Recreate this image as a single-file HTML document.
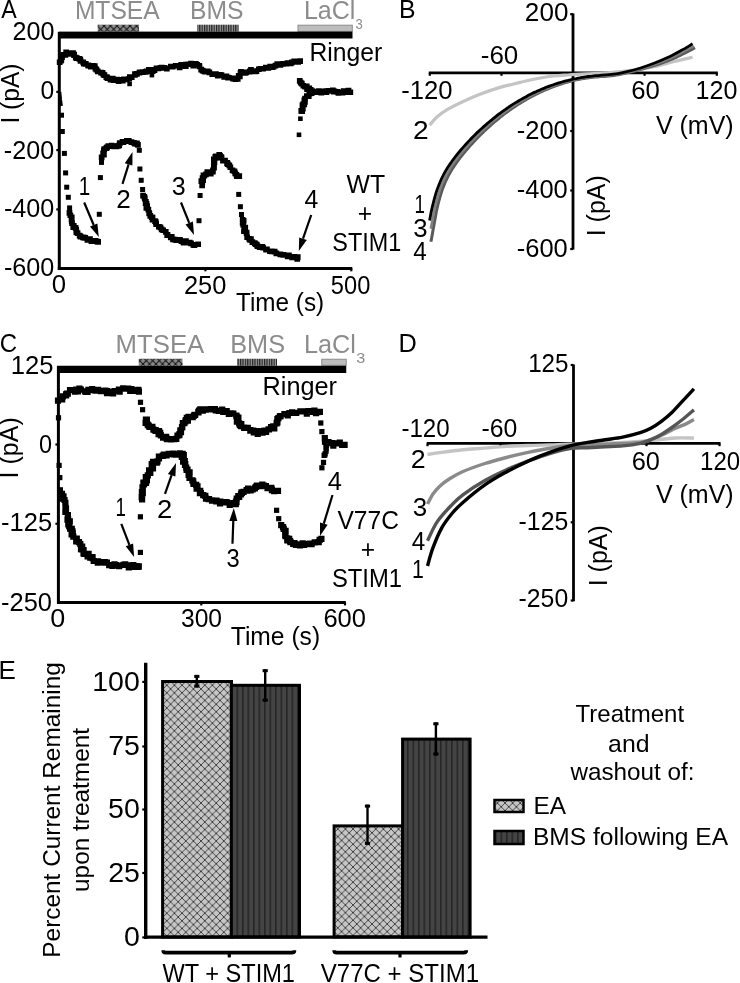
<!DOCTYPE html>
<html><head><meta charset="utf-8"><style>
html,body{margin:0;padding:0;background:#fff;}
svg{display:block;will-change:transform;}
text{font-family:"Liberation Sans",sans-serif;}
</style></head><body>
<svg width="740" height="983" viewBox="0 0 740 983">
<rect width="740" height="983" fill="#fff"/>
<defs>
<pattern id="xh" patternUnits="userSpaceOnUse" x="7.2" y="1.2" width="7.6" height="7.6">
 <rect width="7.6" height="7.6" fill="#c6c6c6"/>
 <path d="M-1,-1 L8.6,8.6 M8.6,-1 L-1,8.6" stroke="#2a2a2a" stroke-width="0.85"/>
</pattern>
<pattern id="xh3" patternUnits="userSpaceOnUse" x="3.4" y="0.6" width="7.6" height="7.6">
 <rect width="7.6" height="7.6" fill="#c6c6c6"/>
 <path d="M-1,-1 L8.6,8.6 M8.6,-1 L-1,8.6" stroke="#2a2a2a" stroke-width="0.85"/>
</pattern>
<pattern id="vs" patternUnits="userSpaceOnUse" width="5.5" height="10">
 <rect width="5.5" height="10" fill="#444"/>
 <rect x="0" width="1.6" height="10" fill="#262626"/>
</pattern>
<pattern id="xhs" patternUnits="userSpaceOnUse" width="6.5" height="6.5">
 <rect width="6.5" height="6.5" fill="#8a8a8a"/>
 <path d="M0,0 L6.5,6.5 M6.5,0 L0,6.5" stroke="#111" stroke-width="1"/>
</pattern>
<pattern id="vss" patternUnits="userSpaceOnUse" width="2.4" height="10">
 <rect width="2.4" height="10" fill="#999"/>
 <rect x="0" width="1.2" height="10" fill="#222"/>
</pattern>
</defs>
<text x="1.15" y="17.50" font-size="25" fill="#000" textLength="15.49" lengthAdjust="spacingAndGlyphs">A</text>
<text x="74.88" y="19.45" font-size="25" fill="#8c8c8c" textLength="84.77" lengthAdjust="spacingAndGlyphs">MTSEA</text>
<text x="189.97" y="19.45" font-size="25" fill="#8c8c8c" textLength="53.56" lengthAdjust="spacingAndGlyphs">BMS</text>
<text x="303.94" y="19.45" font-size="25" fill="#8c8c8c">LaCl</text>
<text x="355.50" y="28.99" font-size="15" fill="#8c8c8c" textLength="7.27" lengthAdjust="spacingAndGlyphs">3</text>
<rect x="97.7" y="24.7" width="41.3" height="7" fill="url(#xhs)"/>
<rect x="197.3" y="24.7" width="41.4" height="7" fill="url(#vss)"/>
<rect x="298" y="25.2" width="54.3" height="6.2" fill="#bdbdbd" stroke="#8c8c8c" stroke-width="1"/>
<rect x="58.5" y="31.6" width="294" height="6.9" fill="#000"/>
<line x1="59.3" y1="32" x2="59.3" y2="270" stroke="#000" stroke-width="3"/>
<line x1="57.8" y1="268.4" x2="352.3" y2="268.4" stroke="#000" stroke-width="3"/>
<line x1="56.3" y1="91.9" x2="59.3" y2="91.9" stroke="#000" stroke-width="2.2"/>
<line x1="56.3" y1="150.1" x2="59.3" y2="150.1" stroke="#000" stroke-width="2.2"/>
<line x1="56.3" y1="209.4" x2="59.3" y2="209.4" stroke="#000" stroke-width="2.2"/>
<line x1="205.4" y1="268.4" x2="205.4" y2="271.3" stroke="#000" stroke-width="2.2"/>
<line x1="351.3" y1="268.4" x2="351.3" y2="271.3" stroke="#000" stroke-width="2.2"/>
<text x="12.54" y="40.05" font-size="25" fill="#000" textLength="41.95" lengthAdjust="spacingAndGlyphs">200</text>
<text x="40.44" y="99.15" font-size="25" fill="#000" textLength="13.73" lengthAdjust="spacingAndGlyphs">0</text>
<text x="3.88" y="158.50" font-size="25" fill="#000" textLength="50.30" lengthAdjust="spacingAndGlyphs">-200</text>
<text x="3.98" y="217.25" font-size="25" fill="#000" textLength="50.40" lengthAdjust="spacingAndGlyphs">-400</text>
<text x="3.98" y="276.05" font-size="25" fill="#000" textLength="50.40" lengthAdjust="spacingAndGlyphs">-600</text>
<text x="51.89" y="293.15" font-size="25" fill="#000" textLength="14.31" lengthAdjust="spacingAndGlyphs">0</text>
<text x="183.92" y="293.50" font-size="25" fill="#000" textLength="42.47" lengthAdjust="spacingAndGlyphs">250</text>
<text x="330.85" y="293.50" font-size="25" fill="#000" textLength="39.47" lengthAdjust="spacingAndGlyphs">500</text>
<text x="236.06" y="311.05" font-size="25" fill="#000" textLength="88.13" lengthAdjust="spacingAndGlyphs">Time (s)</text>
<text transform="translate(18.80,93.15) rotate(-90)" x="-30.42" y="0" font-size="25" fill="#000" textLength="60.09" lengthAdjust="spacingAndGlyphs">I (pA)</text>
<text x="309.47" y="60.85" font-size="25" fill="#000" textLength="72.74" lengthAdjust="spacingAndGlyphs">Ringer</text>
<text x="346.49" y="192.75" font-size="25" fill="#000" textLength="38.58" lengthAdjust="spacingAndGlyphs">WT</text>
<text x="357.79" y="221.70" font-size="25" fill="#000" textLength="14.42" lengthAdjust="spacingAndGlyphs">+</text>
<text x="332.34" y="251.20" font-size="25" fill="#000" textLength="68.91" lengthAdjust="spacingAndGlyphs">STIM1</text>
<path d="M56.8,59.4h5.7v5.7h-5.7zM58.1,57.8h5.7v5.7h-5.7zM58.5,56.9h5.7v5.7h-5.7zM58.2,55.7h5.7v5.7h-5.7zM59.2,54.2h5.7v5.7h-5.7zM60.4,51.9h5.7v5.7h-5.7zM62.5,52.0h5.7v5.7h-5.7zM63.3,49.6h5.7v5.7h-5.7zM66.1,51.0h5.7v5.7h-5.7zM67.9,50.3h5.7v5.7h-5.7zM70.2,50.3h5.7v5.7h-5.7zM71.3,51.7h5.7v5.7h-5.7zM71.2,52.3h5.7v5.7h-5.7zM72.9,54.7h5.7v5.7h-5.7zM74.0,55.2h5.7v5.7h-5.7zM76.3,55.9h5.7v5.7h-5.7zM77.4,56.5h5.7v5.7h-5.7zM77.7,58.0h5.7v5.7h-5.7zM80.4,59.6h5.7v5.7h-5.7zM81.0,60.9h5.7v5.7h-5.7zM82.9,61.0h5.7v5.7h-5.7zM85.3,62.5h5.7v5.7h-5.7zM85.7,62.7h5.7v5.7h-5.7zM88.0,63.8h5.7v5.7h-5.7zM90.0,63.0h5.7v5.7h-5.7zM92.0,63.3h5.7v5.7h-5.7zM92.6,65.9h5.7v5.7h-5.7zM93.6,66.7h5.7v5.7h-5.7zM94.9,68.5h5.7v5.7h-5.7zM98.2,69.7h5.7v5.7h-5.7zM99.7,70.1h5.7v5.7h-5.7zM100.6,71.7h5.7v5.7h-5.7zM101.6,72.3h5.7v5.7h-5.7zM103.5,74.3h5.7v5.7h-5.7zM104.2,74.6h5.7v5.7h-5.7zM104.8,75.4h5.7v5.7h-5.7zM107.7,76.7h5.7v5.7h-5.7zM109.9,75.8h5.7v5.7h-5.7zM110.8,77.2h5.7v5.7h-5.7zM111.9,77.2h5.7v5.7h-5.7zM114.1,76.7h5.7v5.7h-5.7zM115.7,78.2h5.7v5.7h-5.7zM117.6,76.9h5.7v5.7h-5.7zM120.0,77.9h5.7v5.7h-5.7zM121.1,76.4h5.7v5.7h-5.7zM124.0,76.6h5.7v5.7h-5.7zM126.4,75.9h5.7v5.7h-5.7zM127.0,74.2h5.7v5.7h-5.7zM128.9,74.4h5.7v5.7h-5.7zM132.1,72.0h5.7v5.7h-5.7zM132.1,71.3h5.7v5.7h-5.7zM134.1,71.0h5.7v5.7h-5.7zM136.6,69.7h5.7v5.7h-5.7zM137.2,69.4h5.7v5.7h-5.7zM139.8,69.2h5.7v5.7h-5.7zM142.9,69.1h5.7v5.7h-5.7zM143.8,68.6h5.7v5.7h-5.7zM146.0,67.1h5.7v5.7h-5.7zM148.2,68.4h5.7v5.7h-5.7zM149.9,68.2h5.7v5.7h-5.7zM150.3,67.0h5.7v5.7h-5.7zM151.7,67.2h5.7v5.7h-5.7zM153.6,65.6h5.7v5.7h-5.7zM155.5,65.5h5.7v5.7h-5.7zM157.6,65.0h5.7v5.7h-5.7zM159.0,64.8h5.7v5.7h-5.7zM161.6,65.0h5.7v5.7h-5.7zM164.0,65.7h5.7v5.7h-5.7zM168.0,63.7h5.7v5.7h-5.7zM169.9,63.8h5.7v5.7h-5.7zM172.9,62.9h5.7v5.7h-5.7zM176.8,64.5h5.7v5.7h-5.7zM177.5,63.1h5.7v5.7h-5.7zM178.3,62.1h5.7v5.7h-5.7zM180.4,62.2h5.7v5.7h-5.7zM183.1,61.8h5.7v5.7h-5.7zM182.9,63.4h5.7v5.7h-5.7zM185.5,61.4h5.7v5.7h-5.7zM188.2,60.8h5.7v5.7h-5.7zM190.4,62.7h5.7v5.7h-5.7zM192.8,61.9h5.7v5.7h-5.7zM193.0,60.9h5.7v5.7h-5.7zM194.4,61.9h5.7v5.7h-5.7zM196.4,62.9h5.7v5.7h-5.7zM196.6,63.5h5.7v5.7h-5.7zM198.3,66.7h5.7v5.7h-5.7zM199.8,67.7h5.7v5.7h-5.7zM201.4,68.4h5.7v5.7h-5.7zM202.1,68.7h5.7v5.7h-5.7zM204.8,68.4h5.7v5.7h-5.7zM206.5,69.6h5.7v5.7h-5.7zM209.4,71.2h5.7v5.7h-5.7zM213.1,71.2h5.7v5.7h-5.7zM214.9,72.9h5.7v5.7h-5.7zM216.8,71.9h5.7v5.7h-5.7zM216.9,72.0h5.7v5.7h-5.7zM218.6,72.3h5.7v5.7h-5.7zM221.3,74.1h5.7v5.7h-5.7zM223.6,73.5h5.7v5.7h-5.7zM225.2,74.7h5.7v5.7h-5.7zM226.1,74.9h5.7v5.7h-5.7zM230.2,75.7h5.7v5.7h-5.7zM231.9,75.5h5.7v5.7h-5.7zM232.6,76.4h5.7v5.7h-5.7zM234.9,76.1h5.7v5.7h-5.7zM237.0,73.6h5.7v5.7h-5.7zM235.9,73.1h5.7v5.7h-5.7zM237.7,69.9h5.7v5.7h-5.7zM238.1,69.1h5.7v5.7h-5.7zM242.2,70.0h5.7v5.7h-5.7zM243.4,69.5h5.7v5.7h-5.7zM246.8,68.9h5.7v5.7h-5.7zM247.0,68.5h5.7v5.7h-5.7zM248.1,67.1h5.7v5.7h-5.7zM251.6,68.2h5.7v5.7h-5.7zM252.3,68.6h5.7v5.7h-5.7zM253.6,68.2h5.7v5.7h-5.7zM256.0,66.4h5.7v5.7h-5.7zM257.5,65.9h5.7v5.7h-5.7zM260.2,65.9h5.7v5.7h-5.7zM263.0,64.7h5.7v5.7h-5.7zM265.5,65.1h5.7v5.7h-5.7zM267.4,63.7h5.7v5.7h-5.7zM269.5,64.3h5.7v5.7h-5.7zM270.7,63.9h5.7v5.7h-5.7zM272.6,62.7h5.7v5.7h-5.7zM274.4,61.2h5.7v5.7h-5.7zM276.3,61.2h5.7v5.7h-5.7zM277.5,62.1h5.7v5.7h-5.7zM280.2,61.0h5.7v5.7h-5.7zM283.7,60.8h5.7v5.7h-5.7zM285.1,60.3h5.7v5.7h-5.7zM287.9,60.5h5.7v5.7h-5.7zM289.1,59.6h5.7v5.7h-5.7zM291.4,58.6h5.7v5.7h-5.7zM294.3,58.8h5.7v5.7h-5.7zM295.3,59.1h5.7v5.7h-5.7zM297.3,58.2h5.7v5.7h-5.7z" fill="#000"/>
<rect x="127.3" y="81.6" width="4.6" height="4.6" fill="#000"/>
<rect x="149.6" y="72.8" width="4.6" height="4.6" fill="#000"/>
<path d="M296.9,78.1h5.7v5.7h-5.7zM297.9,79.7h5.7v5.7h-5.7zM299.0,80.7h5.7v5.7h-5.7zM300.5,82.9h5.7v5.7h-5.7zM302.2,83.9h5.7v5.7h-5.7zM303.9,83.6h5.7v5.7h-5.7zM304.2,86.2h5.7v5.7h-5.7zM306.4,85.5h5.7v5.7h-5.7zM306.4,87.0h5.7v5.7h-5.7zM307.9,86.9h5.7v5.7h-5.7zM309.5,88.2h5.7v5.7h-5.7zM312.5,89.1h5.7v5.7h-5.7zM312.9,89.2h5.7v5.7h-5.7zM315.9,88.2h5.7v5.7h-5.7zM318.4,89.9h5.7v5.7h-5.7zM318.5,89.8h5.7v5.7h-5.7zM320.6,88.6h5.7v5.7h-5.7zM323.6,89.3h5.7v5.7h-5.7zM323.4,88.3h5.7v5.7h-5.7zM325.8,88.1h5.7v5.7h-5.7zM326.6,88.1h5.7v5.7h-5.7zM330.0,87.6h5.7v5.7h-5.7zM331.1,88.7h5.7v5.7h-5.7zM331.6,88.5h5.7v5.7h-5.7zM334.7,89.0h5.7v5.7h-5.7zM335.6,90.0h5.7v5.7h-5.7zM339.7,89.9h5.7v5.7h-5.7zM340.8,88.2h5.7v5.7h-5.7zM343.1,89.2h5.7v5.7h-5.7zM345.7,87.7h5.7v5.7h-5.7zM347.5,89.4h5.7v5.7h-5.7z" fill="#000"/>
<path d="M299.3,108.2h5.7v5.7h-5.7zM298.4,108.1h5.7v5.7h-5.7zM300.0,105.8h5.7v5.7h-5.7zM299.6,102.6h5.7v5.7h-5.7zM301.4,101.5h5.7v5.7h-5.7zM300.4,101.2h5.7v5.7h-5.7zM302.1,99.0h5.7v5.7h-5.7zM301.5,97.4h5.7v5.7h-5.7zM302.2,95.8h5.7v5.7h-5.7zM304.0,93.3h5.7v5.7h-5.7zM305.9,93.4h5.7v5.7h-5.7zM306.7,90.9h5.7v5.7h-5.7zM308.8,90.4h5.7v5.7h-5.7zM308.1,90.1h5.7v5.7h-5.7z" fill="#000"/>
<rect x="296.7" y="132.5" width="4.6" height="4.6" fill="#000"/>
<rect x="298.1" y="116.4" width="4.6" height="4.6" fill="#000"/>
<path d="M59.6,92 L60.4,100 L61.2,106" fill="none" stroke="#000" stroke-width="3.4"/>
<rect x="59.0" y="112.7" width="5" height="5" fill="#000"/>
<rect x="59.8" y="129.0" width="5" height="5" fill="#000"/>
<rect x="61.9" y="150.9" width="5" height="5" fill="#000"/>
<rect x="63.1" y="170.4" width="5" height="5" fill="#000"/>
<rect x="64.2" y="184.7" width="5" height="5" fill="#000"/>
<rect x="65.8" y="194.8" width="5" height="5" fill="#000"/>
<rect x="67.1" y="205.4" width="5" height="5" fill="#000"/>
<path d="M66.6,210.1h5.7v5.7h-5.7zM67.5,212.4h5.7v5.7h-5.7zM68.9,214.4h5.7v5.7h-5.7zM68.7,216.3h5.7v5.7h-5.7zM68.9,218.2h5.7v5.7h-5.7zM69.2,220.2h5.7v5.7h-5.7zM70.9,223.1h5.7v5.7h-5.7zM70.4,224.4h5.7v5.7h-5.7zM72.8,225.1h5.7v5.7h-5.7zM73.4,227.1h5.7v5.7h-5.7zM73.5,229.3h5.7v5.7h-5.7zM74.7,230.3h5.7v5.7h-5.7zM76.8,232.8h5.7v5.7h-5.7zM77.7,233.8h5.7v5.7h-5.7zM80.1,234.5h5.7v5.7h-5.7zM81.2,234.8h5.7v5.7h-5.7zM82.4,235.1h5.7v5.7h-5.7zM84.6,237.1h5.7v5.7h-5.7zM87.1,236.3h5.7v5.7h-5.7zM88.6,238.3h5.7v5.7h-5.7zM92.3,238.4h5.7v5.7h-5.7zM92.8,237.9h5.7v5.7h-5.7zM94.5,238.8h5.7v5.7h-5.7zM95.3,239.0h5.7v5.7h-5.7z" fill="#000"/>
<rect x="96.8" y="211.8" width="5" height="5" fill="#000"/>
<rect x="97.9" y="175.1" width="5" height="5" fill="#000"/>
<rect x="99.0" y="159.9" width="5" height="5" fill="#000"/>
<path d="M98.8,154.6h5.7v5.7h-5.7zM101.1,151.7h5.7v5.7h-5.7zM100.3,150.5h5.7v5.7h-5.7zM101.0,147.8h5.7v5.7h-5.7zM101.4,146.2h5.7v5.7h-5.7zM103.5,145.3h5.7v5.7h-5.7zM104.2,144.5h5.7v5.7h-5.7zM105.5,143.2h5.7v5.7h-5.7zM107.4,143.2h5.7v5.7h-5.7zM109.0,142.7h5.7v5.7h-5.7zM111.3,143.5h5.7v5.7h-5.7zM113.6,143.6h5.7v5.7h-5.7zM115.2,143.0h5.7v5.7h-5.7zM116.4,142.5h5.7v5.7h-5.7zM116.9,140.3h5.7v5.7h-5.7zM119.7,139.0h5.7v5.7h-5.7zM120.6,139.2h5.7v5.7h-5.7zM120.6,138.9h5.7v5.7h-5.7zM124.1,137.9h5.7v5.7h-5.7zM125.4,138.3h5.7v5.7h-5.7zM125.9,138.0h5.7v5.7h-5.7zM128.6,139.2h5.7v5.7h-5.7zM131.0,139.9h5.7v5.7h-5.7zM132.1,140.7h5.7v5.7h-5.7zM133.8,141.1h5.7v5.7h-5.7zM134.1,140.6h5.7v5.7h-5.7zM135.1,142.1h5.7v5.7h-5.7z" fill="#000"/>
<rect x="136.8" y="147.8" width="5" height="5" fill="#000"/>
<rect x="137.4" y="166.5" width="5" height="5" fill="#000"/>
<rect x="138.7" y="177.8" width="5" height="5" fill="#000"/>
<rect x="140.1" y="187.0" width="5" height="5" fill="#000"/>
<path d="M140.2,192.7h5.7v5.7h-5.7zM141.5,193.9h5.7v5.7h-5.7zM141.9,195.5h5.7v5.7h-5.7zM142.0,195.7h5.7v5.7h-5.7zM143.0,199.1h5.7v5.7h-5.7zM142.8,200.4h5.7v5.7h-5.7zM143.7,201.0h5.7v5.7h-5.7zM144.3,203.2h5.7v5.7h-5.7zM143.5,205.0h5.7v5.7h-5.7zM145.5,206.7h5.7v5.7h-5.7zM146.3,210.2h5.7v5.7h-5.7zM146.5,210.6h5.7v5.7h-5.7zM147.4,213.0h5.7v5.7h-5.7zM148.9,214.4h5.7v5.7h-5.7zM149.7,214.8h5.7v5.7h-5.7zM149.7,216.7h5.7v5.7h-5.7zM152.2,218.3h5.7v5.7h-5.7zM153.0,219.2h5.7v5.7h-5.7zM153.3,221.3h5.7v5.7h-5.7zM156.0,223.9h5.7v5.7h-5.7zM157.6,224.6h5.7v5.7h-5.7zM158.8,226.6h5.7v5.7h-5.7zM160.3,227.4h5.7v5.7h-5.7zM162.9,229.0h5.7v5.7h-5.7zM164.7,232.0h5.7v5.7h-5.7zM164.3,232.2h5.7v5.7h-5.7zM167.9,234.5h5.7v5.7h-5.7zM168.9,234.1h5.7v5.7h-5.7zM170.1,236.6h5.7v5.7h-5.7zM171.9,236.7h5.7v5.7h-5.7zM173.5,237.4h5.7v5.7h-5.7zM177.1,237.1h5.7v5.7h-5.7zM178.6,238.3h5.7v5.7h-5.7zM180.5,239.1h5.7v5.7h-5.7zM180.8,239.9h5.7v5.7h-5.7zM183.1,238.3h5.7v5.7h-5.7zM183.9,239.8h5.7v5.7h-5.7zM186.8,239.8h5.7v5.7h-5.7zM188.2,240.5h5.7v5.7h-5.7zM190.5,242.1h5.7v5.7h-5.7zM191.6,242.3h5.7v5.7h-5.7zM195.3,241.4h5.7v5.7h-5.7z" fill="#000"/>
<rect x="196.5" y="218.2" width="5" height="5" fill="#000"/>
<rect x="197.6" y="193.0" width="5" height="5" fill="#000"/>
<path d="M199.3,182.5h5.7v5.7h-5.7zM199.4,179.7h5.7v5.7h-5.7zM198.5,178.3h5.7v5.7h-5.7zM200.3,177.2h5.7v5.7h-5.7zM199.7,175.2h5.7v5.7h-5.7zM200.6,172.6h5.7v5.7h-5.7zM201.5,172.7h5.7v5.7h-5.7zM203.1,171.5h5.7v5.7h-5.7zM204.5,169.3h5.7v5.7h-5.7zM206.6,169.2h5.7v5.7h-5.7zM207.9,170.7h5.7v5.7h-5.7zM210.0,168.8h5.7v5.7h-5.7zM210.1,167.4h5.7v5.7h-5.7zM211.2,164.9h5.7v5.7h-5.7zM211.0,162.0h5.7v5.7h-5.7zM211.2,161.0h5.7v5.7h-5.7zM211.6,159.5h5.7v5.7h-5.7zM211.0,156.5h5.7v5.7h-5.7zM212.9,155.0h5.7v5.7h-5.7zM212.5,154.0h5.7v5.7h-5.7zM213.2,153.5h5.7v5.7h-5.7zM216.4,152.1h5.7v5.7h-5.7zM217.2,152.9h5.7v5.7h-5.7zM218.4,154.2h5.7v5.7h-5.7zM218.7,154.8h5.7v5.7h-5.7zM220.1,157.7h5.7v5.7h-5.7zM222.2,157.8h5.7v5.7h-5.7zM224.2,160.6h5.7v5.7h-5.7zM224.4,160.0h5.7v5.7h-5.7zM225.0,161.2h5.7v5.7h-5.7zM226.5,162.5h5.7v5.7h-5.7zM227.5,164.4h5.7v5.7h-5.7zM229.7,167.5h5.7v5.7h-5.7zM231.6,168.4h5.7v5.7h-5.7zM232.4,170.6h5.7v5.7h-5.7zM233.6,171.9h5.7v5.7h-5.7zM234.0,173.2h5.7v5.7h-5.7zM236.4,173.3h5.7v5.7h-5.7z" fill="#000"/>
<rect x="236.2" y="191.9" width="5" height="5" fill="#000"/>
<rect x="237.9" y="204.2" width="5" height="5" fill="#000"/>
<rect x="239.0" y="212.0" width="5" height="5" fill="#000"/>
<path d="M239.8,217.0h5.7v5.7h-5.7zM240.8,217.9h5.7v5.7h-5.7zM239.8,220.0h5.7v5.7h-5.7zM240.4,222.0h5.7v5.7h-5.7zM242.1,224.7h5.7v5.7h-5.7zM242.4,224.8h5.7v5.7h-5.7zM241.1,228.3h5.7v5.7h-5.7zM243.7,229.7h5.7v5.7h-5.7zM243.8,230.5h5.7v5.7h-5.7zM244.3,234.4h5.7v5.7h-5.7zM246.4,236.0h5.7v5.7h-5.7zM248.1,236.3h5.7v5.7h-5.7zM247.3,237.1h5.7v5.7h-5.7zM249.5,239.3h5.7v5.7h-5.7zM251.9,240.3h5.7v5.7h-5.7zM252.7,241.3h5.7v5.7h-5.7zM253.9,241.7h5.7v5.7h-5.7zM254.6,243.2h5.7v5.7h-5.7zM256.8,244.4h5.7v5.7h-5.7zM259.5,244.1h5.7v5.7h-5.7zM260.2,244.9h5.7v5.7h-5.7zM263.2,246.9h5.7v5.7h-5.7zM264.1,246.4h5.7v5.7h-5.7zM267.1,248.4h5.7v5.7h-5.7zM269.0,248.5h5.7v5.7h-5.7zM271.8,248.8h5.7v5.7h-5.7zM273.5,250.5h5.7v5.7h-5.7zM277.4,251.6h5.7v5.7h-5.7zM279.7,251.9h5.7v5.7h-5.7zM280.7,252.0h5.7v5.7h-5.7zM284.8,253.6h5.7v5.7h-5.7zM286.1,252.6h5.7v5.7h-5.7zM289.3,254.6h5.7v5.7h-5.7zM291.7,254.1h5.7v5.7h-5.7zM294.4,256.0h5.7v5.7h-5.7zM294.9,254.3h5.7v5.7h-5.7z" fill="#000"/>
<text x="78.63" y="195.40" font-size="25" fill="#000" textLength="11.48" lengthAdjust="spacingAndGlyphs">1</text>
<line x1="84.2" y1="202.5" x2="93.7" y2="225.0" stroke="#000" stroke-width="2.2"/>
<polygon points="98.8,237.0 90.0,226.6 97.4,223.5" fill="#000"/>
<text x="116.39" y="207.85" font-size="25" fill="#000" textLength="14.53" lengthAdjust="spacingAndGlyphs">2</text>
<line x1="122.5" y1="183.8" x2="128.6" y2="164.4" stroke="#000" stroke-width="2.2"/>
<polygon points="132.5,152.0 132.4,165.6 124.8,163.2" fill="#000"/>
<text x="171.84" y="194.85" font-size="25" fill="#000">3</text>
<line x1="181.0" y1="202.5" x2="189.2" y2="222.9" stroke="#000" stroke-width="2.2"/>
<polygon points="194.0,235.0 185.5,224.4 192.9,221.4" fill="#000"/>
<text x="304.43" y="207.90" font-size="25" fill="#000" textLength="13.80" lengthAdjust="spacingAndGlyphs">4</text>
<line x1="311.2" y1="215.0" x2="303.0" y2="238.7" stroke="#000" stroke-width="2.2"/>
<polygon points="298.8,251.0 299.2,237.4 306.8,240.0" fill="#000"/>
<text x="399.07" y="18.10" font-size="25" fill="#000" textLength="16.54" lengthAdjust="spacingAndGlyphs">B</text>
<line x1="573" y1="13.4" x2="573" y2="249.6" stroke="#000" stroke-width="2.8"/>
<line x1="428.8" y1="72.8" x2="717.8" y2="72.8" stroke="#000" stroke-width="2.8"/>
<line x1="570.2" y1="14.2" x2="573" y2="14.2" stroke="#000" stroke-width="2.2"/>
<line x1="570.2" y1="131" x2="573" y2="131" stroke="#000" stroke-width="2.2"/>
<line x1="570.2" y1="190.5" x2="573" y2="190.5" stroke="#000" stroke-width="2.2"/>
<line x1="570.2" y1="249" x2="573" y2="249" stroke="#000" stroke-width="2.2"/>
<line x1="429.8" y1="72.8" x2="429.8" y2="75.8" stroke="#000" stroke-width="2.2"/>
<line x1="501.5" y1="72.8" x2="501.5" y2="75.8" stroke="#000" stroke-width="2.2"/>
<line x1="644.6" y1="72.8" x2="644.6" y2="75.8" stroke="#000" stroke-width="2.2"/>
<line x1="716.8" y1="72.8" x2="716.8" y2="75.8" stroke="#000" stroke-width="2.2"/>
<text x="524.89" y="21.30" font-size="25" fill="#000" textLength="43.53" lengthAdjust="spacingAndGlyphs">200</text>
<text x="516.77" y="139.30" font-size="25" fill="#000" textLength="51.03" lengthAdjust="spacingAndGlyphs">-200</text>
<text x="516.77" y="198.40" font-size="25" fill="#000" textLength="51.03" lengthAdjust="spacingAndGlyphs">-400</text>
<text x="516.77" y="257.15" font-size="25" fill="#000" textLength="51.03" lengthAdjust="spacingAndGlyphs">-600</text>
<text x="480.74" y="64.40" font-size="25" fill="#000" textLength="37.57" lengthAdjust="spacingAndGlyphs">-60</text>
<text x="401.26" y="98.75" font-size="25" fill="#000" textLength="51.34" lengthAdjust="spacingAndGlyphs">-120</text>
<text x="631.29" y="99.05" font-size="25" fill="#000" textLength="28.61" lengthAdjust="spacingAndGlyphs">60</text>
<text x="695.49" y="99.25" font-size="25" fill="#000" textLength="41.89" lengthAdjust="spacingAndGlyphs">120</text>
<text x="655.89" y="133.50" font-size="25" fill="#000">V (mV)</text>
<text transform="translate(604.60,205.40) rotate(-90)" x="-30.90" y="0" font-size="25" fill="#000">I (pA)</text>
<text x="412.99" y="139.00" font-size="25" fill="#000" textLength="15.63" lengthAdjust="spacingAndGlyphs">2</text>
<text x="414.47" y="212.55" font-size="25" fill="#000" textLength="10.45" lengthAdjust="spacingAndGlyphs">1</text>
<text x="413.22" y="237.15" font-size="25" fill="#000" textLength="14.31" lengthAdjust="spacingAndGlyphs">3</text>
<text x="413.24" y="259.90" font-size="25" fill="#000" textLength="13.46" lengthAdjust="spacingAndGlyphs">4</text>
<path d="M429.6,125.2 C430.9,123.8 434.1,119.5 437.2,116.8 C440.2,114.1 443.6,111.8 447.9,109.2 C452.2,106.7 457.8,104.0 463.2,101.5 C468.6,99.0 473.9,96.5 480.0,94.2 C486.1,91.9 494.4,89.1 500.0,87.4 C505.6,85.7 509.0,85.1 513.5,84.0 C518.0,82.9 522.5,81.7 527.0,80.7 C531.5,79.7 536.0,78.8 540.5,78.0 C545.0,77.2 549.5,76.5 554.0,76.0 C558.5,75.5 563.1,75.3 567.6,75.0 C572.1,74.7 575.6,74.5 581.0,74.2 C586.4,73.9 592.3,74.0 600.0,73.4 C607.7,72.8 618.0,71.9 627.0,70.8 C636.0,69.7 646.1,68.4 654.0,66.8 C661.9,65.2 667.9,63.0 674.3,61.4 C680.7,59.8 689.5,58.0 692.6,57.3" fill="none" stroke="#c4c4c4" stroke-width="3.2"/>
<path d="M430.9,241.8 L431.6,238.1 L432.4,233.7 L433.2,229.1 L434.0,224.8 L434.6,221.3 L435.1,218.7 L435.5,216.5 L435.8,214.7 L436.1,213.0 L436.4,211.2 L436.9,209.2 L437.4,206.9 L438.0,204.3 L438.7,201.7 L439.4,199.1 L440.1,196.7 L440.7,194.5 L441.3,192.5 L441.9,190.7 L442.5,188.9 L443.2,187.3 L443.8,185.7 L444.4,184.1 L445.0,182.6 L445.7,181.2 L446.3,179.9 L446.9,178.6 L447.5,177.4 L448.2,176.1 L448.8,174.9 L449.4,173.8 L450.0,172.7 L450.6,171.7 L451.3,170.6 L451.9,169.5 L452.5,168.5 L453.1,167.6 L453.8,166.6 L454.4,165.7 L455.0,164.7 L455.7,163.8 L456.3,162.9 L456.9,162.0 L457.5,161.1 L458.2,160.3 L458.8,159.4 L459.5,158.6 L460.1,157.7 L460.7,156.9 L461.4,156.1 L462.0,155.3 L462.6,154.5 L463.3,153.7 L463.9,152.9 L464.6,152.2 L465.2,151.4 L465.8,150.6 L466.5,149.9 L467.1,149.1 L467.8,148.4 L468.4,147.7 L469.0,146.9 L469.7,146.2 L470.3,145.5 L471.0,144.8 L471.6,144.1 L472.3,143.4 L472.9,142.7 L473.5,142.0 L474.2,141.3 L474.8,140.6 L475.5,139.9 L476.1,139.3 L476.8,138.6 L477.4,137.9 L478.1,137.3 L478.7,136.6 L479.3,136.0 L480.0,135.3 L480.6,134.7 L481.3,134.0 L481.9,133.4 L482.6,132.8 L483.2,132.2 L483.9,131.5 L484.5,130.9 L485.1,130.3 L485.8,129.7 L486.4,129.1 L487.1,128.5 L487.7,127.9 L488.4,127.3 L489.0,126.8 L489.7,126.2 L490.3,125.6 L491.0,125.0 L491.6,124.5 L492.2,123.9 L492.9,123.3 L493.5,122.8 L494.2,122.2 L494.8,121.7 L495.5,121.1 L496.1,120.6 L496.8,120.0 L497.4,119.5 L498.1,119.0 L498.7,118.5 L499.4,117.9 L500.0,117.4 L500.6,116.9 L501.3,116.4 L501.9,115.9 L502.6,115.4 L503.2,114.9 L503.9,114.4 L504.5,113.9 L505.2,113.4 L505.8,112.9 L506.5,112.4 L507.1,112.0 L507.8,111.5 L508.4,111.0 L509.1,110.6 L509.7,110.1 L510.3,109.6 L511.0,109.2 L511.6,108.7 L512.3,108.3 L512.9,107.8 L513.6,107.4 L514.2,107.0 L514.9,106.5 L515.5,106.1 L516.2,105.7 L516.8,105.2 L517.5,104.8 L518.1,104.4 L518.8,104.0 L519.4,103.6 L520.1,103.2 L520.7,102.8 L521.4,102.4 L522.0,102.0 L522.7,101.6 L523.3,101.2 L524.0,100.8 L524.6,100.4 L525.3,100.1 L525.9,99.7 L526.6,99.3 L527.2,98.9 L527.9,98.6 L528.5,98.2 L529.2,97.8 L529.8,97.5 L530.5,97.1 L531.1,96.8 L531.8,96.4 L532.4,96.1 L533.1,95.8 L533.7,95.4 L534.4,95.1 L535.0,94.7 L535.7,94.4 L536.3,94.1 L537.0,93.8 L537.6,93.5 L538.3,93.1 L538.9,92.8 L539.6,92.5 L540.2,92.2 L540.9,91.9 L541.5,91.6 L542.2,91.3 L542.8,91.0 L543.5,90.7 L544.1,90.4 L544.8,90.2 L545.4,89.9 L546.1,89.6 L546.7,89.3 L547.4,89.0 L548.0,88.8 L548.7,88.5 L549.4,88.2 L550.0,88.0 L550.7,87.7 L551.3,87.5 L552.0,87.2 L552.6,87.0 L553.3,86.7 L553.9,86.5 L554.6,86.2 L555.2,86.0 L555.9,85.7 L556.5,85.5 L557.2,85.3 L557.9,85.1 L558.5,84.8 L559.2,84.6 L559.8,84.4 L560.5,84.2 L561.1,84.0 L561.8,83.8 L562.4,83.5 L563.1,83.3 L563.8,83.1 L564.4,82.9 L565.1,82.7 L565.7,82.5 L566.4,82.4 L567.0,82.2 L567.7,82.0 L568.4,81.8 L569.0,81.6 L569.7,81.4 L570.3,81.3 L571.0,81.1 L571.6,80.9 L572.3,80.7 L573.0,80.6 L573.6,80.4 L574.3,80.3 L574.9,80.1 L575.6,80.0 L576.3,79.8 L576.9,79.7 L577.6,79.6 L578.2,79.5 L578.9,79.3 L579.6,79.2 L580.2,79.1 L580.9,79.0 L581.6,78.9 L582.2,78.7 L582.9,78.6 L583.5,78.5 L584.2,78.4 L584.9,78.3 L585.5,78.2 L586.2,78.1 L586.8,78.0 L587.5,77.9 L588.2,77.8 L588.8,77.7 L589.5,77.7 L590.2,77.6 L590.8,77.5 L591.5,77.4 L592.1,77.3 L592.8,77.3 L593.5,77.2 L594.1,77.1 L594.8,77.1 L595.5,77.0 L596.1,76.9 L596.7,76.9 L597.1,76.9 L597.5,76.8 L598.1,76.8 L598.9,76.7 L600.1,76.6 L601.8,76.5 L603.9,76.4 L606.2,76.2 L608.8,76.0 L611.3,75.8 L613.7,75.5 L616.0,75.1 L618.2,74.8 L620.5,74.3 L622.8,73.9 L625.0,73.4 L627.3,72.9 L629.6,72.3 L631.8,71.8 L634.1,71.2 L636.3,70.6 L638.6,69.9 L640.9,69.3 L643.2,68.7 L645.5,68.1 L647.8,67.4 L650.1,66.8 L652.5,66.1 L654.8,65.4 L657.1,64.6 L659.5,63.8 L661.8,63.0 L664.2,62.2 L666.5,61.3 L668.9,60.4 L671.3,59.4 L673.7,58.3 L676.1,57.3 L678.4,56.2 L680.7,55.1 L682.9,54.0 L685.2,52.9 L687.6,51.7 L689.9,50.5 L692.0,49.4 L693.7,48.5 L695.0,47.8" fill="none" stroke="#5a5a5a" stroke-width="3"/>
<path d="M430.9,228.7 L431.6,224.4 L432.3,220.9 L432.8,218.3 L433.2,216.1 L433.5,214.2 L433.8,212.5 L434.2,210.8 L434.6,208.7 L435.2,206.3 L435.8,203.8 L436.5,201.1 L437.2,198.5 L437.9,196.1 L438.5,193.8 L439.2,191.8 L439.8,189.9 L440.5,188.1 L441.1,186.4 L441.7,184.8 L442.4,183.2 L443.0,181.7 L443.7,180.3 L444.3,178.9 L445.0,177.6 L445.6,176.4 L446.2,175.1 L446.9,173.9 L447.5,172.8 L448.2,171.6 L448.8,170.5 L449.5,169.5 L450.1,168.4 L450.8,167.4 L451.4,166.4 L452.0,165.4 L452.7,164.5 L453.3,163.5 L454.0,162.6 L454.6,161.7 L455.3,160.8 L455.9,159.9 L456.6,159.0 L457.2,158.2 L457.9,157.3 L458.5,156.5 L459.2,155.7 L459.8,154.9 L460.5,154.1 L461.1,153.3 L461.8,152.5 L462.4,151.7 L463.1,150.9 L463.7,150.1 L464.4,149.4 L465.0,148.6 L465.7,147.9 L466.4,147.1 L467.0,146.4 L467.7,145.7 L468.3,144.9 L469.0,144.2 L469.6,143.5 L470.3,142.8 L470.9,142.1 L471.6,141.4 L472.2,140.7 L472.9,140.0 L473.5,139.3 L474.2,138.7 L474.9,138.0 L475.5,137.3 L476.2,136.7 L476.8,136.0 L477.5,135.4 L478.1,134.7 L478.8,134.1 L479.4,133.4 L480.1,132.8 L480.8,132.2 L481.4,131.5 L482.1,130.9 L482.7,130.3 L483.4,129.7 L484.0,129.1 L484.7,128.5 L485.3,127.9 L486.0,127.3 L486.6,126.7 L487.3,126.1 L488.0,125.5 L488.6,125.0 L489.3,124.4 L489.9,123.8 L490.6,123.2 L491.2,122.7 L491.9,122.1 L492.5,121.6 L493.2,121.0 L493.9,120.5 L494.5,119.9 L495.2,119.4 L495.8,118.9 L496.5,118.3 L497.1,117.8 L497.8,117.3 L498.4,116.8 L499.1,116.3 L499.8,115.7 L500.4,115.2 L501.1,114.7 L501.7,114.2 L502.4,113.7 L503.0,113.2 L503.7,112.8 L504.4,112.3 L505.0,111.8 L505.7,111.3 L506.3,110.8 L507.0,110.4 L507.6,109.9 L508.3,109.4 L508.9,109.0 L509.6,108.5 L510.3,108.1 L510.9,107.6 L511.6,107.2 L512.2,106.8 L512.9,106.3 L513.5,105.9 L514.2,105.5 L514.9,105.0 L515.5,104.6 L516.2,104.2 L516.8,103.8 L517.5,103.4 L518.1,103.0 L518.8,102.5 L519.5,102.1 L520.1,101.7 L520.8,101.4 L521.4,101.0 L522.1,100.6 L522.7,100.2 L523.4,99.8 L524.1,99.4 L524.7,99.1 L525.4,98.7 L526.0,98.3 L526.7,98.0 L527.3,97.6 L528.0,97.2 L528.7,96.9 L529.3,96.5 L530.0,96.2 L530.6,95.8 L531.3,95.5 L531.9,95.2 L532.6,94.8 L533.3,94.5 L533.9,94.2 L534.6,93.8 L535.2,93.5 L535.9,93.2 L536.5,92.9 L537.2,92.6 L537.9,92.3 L538.5,92.0 L539.2,91.6 L539.8,91.3 L540.5,91.1 L541.2,90.8 L541.8,90.5 L542.5,90.2 L543.1,89.9 L543.8,89.6 L544.5,89.3 L545.1,89.1 L545.8,88.8 L546.4,88.5 L547.1,88.2 L547.7,88.0 L548.4,87.7 L549.1,87.5 L549.7,87.2 L550.4,87.0 L551.0,86.7 L551.7,86.5 L552.4,86.2 L553.0,86.0 L553.7,85.7 L554.3,85.5 L555.0,85.3 L555.7,85.0 L556.3,84.8 L557.0,84.6 L557.6,84.4 L558.3,84.2 L559.0,83.9 L559.6,83.7 L560.3,83.5 L560.9,83.3 L561.6,83.1 L562.3,82.9 L562.9,82.7 L563.6,82.5 L564.2,82.3 L564.9,82.1 L565.6,82.0 L566.2,81.8 L566.9,81.6 L567.6,81.4 L568.2,81.2 L568.9,81.1 L569.5,80.9 L570.2,80.7 L570.9,80.6 L571.5,80.4 L572.2,80.2 L572.8,80.1 L573.5,79.9 L574.2,79.8 L574.8,79.6 L575.5,79.5 L576.2,79.4 L576.8,79.2 L577.5,79.1 L578.2,79.0 L578.8,78.8 L579.5,78.7 L580.1,78.6 L580.8,78.5 L581.5,78.4 L582.1,78.2 L582.8,78.1 L583.5,78.0 L584.1,77.9 L584.8,77.8 L585.5,77.7 L586.1,77.6 L586.8,77.5 L587.4,77.4 L588.1,77.3 L588.8,77.3 L589.4,77.2 L590.1,77.1 L590.8,77.0 L591.4,76.9 L592.1,76.8 L592.8,76.8 L593.4,76.7 L594.1,76.6 L594.7,76.6 L595.4,76.5 L596.1,76.4 L596.6,76.4 L597.0,76.4 L597.5,76.3 L598.0,76.3 L598.8,76.2 L600.1,76.1 L601.8,76.0 L603.8,75.9 L606.2,75.7 L608.7,75.5 L611.2,75.3 L613.6,75.0 L615.9,74.7 L618.1,74.3 L620.4,73.8 L622.7,73.4 L624.9,72.9 L627.2,72.4 L629.4,71.8 L631.7,71.3 L634.0,70.7 L636.2,70.1 L638.5,69.4 L640.7,68.8 L643.0,68.1 L645.3,67.5 L647.6,66.7 L649.9,66.0 L652.1,65.2 L654.4,64.4 L656.7,63.6 L659.0,62.8 L661.4,61.9 L663.7,61.0 L666.0,60.1 L668.3,59.1 L670.6,58.0 L673.0,56.9 L675.3,55.8 L677.6,54.6 L679.8,53.5 L682.0,52.4 L684.2,51.2 L686.5,49.9 L688.8,48.7 L690.8,47.5 L692.6,46.6 L693.8,45.9" fill="none" stroke="#808080" stroke-width="2.6"/>
<path d="M429.6,220.4 C430.0,218.4 430.9,212.7 432.0,208.1 C433.1,203.5 434.7,197.3 436.0,193.0 C437.3,188.7 438.7,185.4 440.0,182.2 C441.3,179.0 442.7,176.4 444.0,173.9 C445.3,171.4 446.7,169.2 448.0,167.1 C449.3,165.0 450.7,163.1 452.0,161.2 C453.3,159.3 454.7,157.6 456.0,155.9 C457.3,154.2 458.7,152.5 460.0,151.0 C461.3,149.4 462.7,147.8 464.0,146.4 C465.3,144.9 466.7,143.4 468.0,142.0 C469.3,140.6 470.7,139.2 472.0,137.8 C473.3,136.5 474.7,135.1 476.0,133.8 C477.3,132.5 478.7,131.3 480.0,130.0 C481.3,128.8 482.7,127.6 484.0,126.4 C485.3,125.2 486.7,124.0 488.0,122.9 C489.3,121.8 490.7,120.6 492.0,119.6 C493.3,118.5 494.7,117.4 496.0,116.4 C497.3,115.3 498.7,114.3 500.0,113.3 C501.3,112.3 502.7,111.3 504.0,110.4 C505.3,109.4 506.7,108.5 508.0,107.6 C509.3,106.7 510.7,105.8 512.0,104.9 C513.3,104.1 514.7,103.2 516.0,102.4 C517.3,101.6 518.7,100.8 520.0,100.0 C521.3,99.3 522.7,98.5 524.0,97.8 C525.3,97.0 526.7,96.3 528.0,95.6 C529.3,94.9 530.7,94.3 532.0,93.6 C533.3,92.9 534.7,92.3 536.0,91.7 C537.3,91.1 538.7,90.5 540.0,89.9 C541.3,89.3 542.7,88.8 544.0,88.2 C545.3,87.7 546.7,87.2 548.0,86.6 C549.3,86.1 550.7,85.7 552.0,85.2 C553.3,84.7 554.7,84.3 556.0,83.8 C557.3,83.4 558.7,83.0 560.0,82.6 C561.3,82.2 562.7,81.8 564.0,81.4 C565.3,81.1 566.7,80.7 568.0,80.4 C569.3,80.0 570.7,79.7 572.0,79.4 C573.3,79.1 574.7,78.8 576.0,78.6 C577.3,78.3 578.7,78.0 580.0,77.8 C581.3,77.6 582.7,77.3 584.0,77.1 C585.3,76.9 586.7,76.7 588.0,76.5 C589.3,76.4 590.7,76.2 592.0,76.1 C593.3,75.9 594.7,75.8 596.0,75.6 C597.3,75.5 597.1,75.6 600.0,75.3 C602.9,75.1 609.0,74.8 613.5,74.2 C618.0,73.6 622.5,72.6 627.0,71.6 C631.5,70.6 636.0,69.4 640.5,68.0 C645.0,66.6 649.5,65.0 654.0,63.3 C658.5,61.6 663.1,59.7 667.6,57.6 C672.1,55.5 676.8,52.9 681.0,50.6 C685.2,48.3 690.7,44.9 692.6,43.8" fill="none" stroke="#000" stroke-width="2.8"/>
<text x="-0.32" y="351.65" font-size="25" fill="#000" textLength="17.33" lengthAdjust="spacingAndGlyphs">C</text>
<text x="115.59" y="352.60" font-size="25" fill="#8c8c8c" textLength="88.66" lengthAdjust="spacingAndGlyphs">MTSEA</text>
<text x="230.22" y="352.60" font-size="25" fill="#8c8c8c" textLength="54.84" lengthAdjust="spacingAndGlyphs">BMS</text>
<text x="303.93" y="352.60" font-size="25" fill="#8c8c8c" textLength="51.96" lengthAdjust="spacingAndGlyphs">LaCl</text>
<text x="356.38" y="363.49" font-size="15" fill="#8c8c8c" textLength="9.03" lengthAdjust="spacingAndGlyphs">3</text>
<rect x="138.75" y="358.75" width="43.75" height="7" fill="url(#xhs)"/>
<rect x="237" y="358.75" width="40" height="7" fill="url(#vss)"/>
<rect x="321.75" y="359.25" width="24.5" height="6" fill="#bdbdbd" stroke="#8c8c8c" stroke-width="1"/>
<rect x="57" y="365.75" width="289.25" height="7.25" fill="#000"/>
<line x1="58.4" y1="366" x2="58.4" y2="604" stroke="#000" stroke-width="3"/>
<line x1="57" y1="602.6" x2="345.8" y2="602.6" stroke="#000" stroke-width="3"/>
<line x1="55.4" y1="444.5" x2="58.4" y2="444.5" stroke="#000" stroke-width="2.2"/>
<line x1="55.4" y1="523.75" x2="58.4" y2="523.75" stroke="#000" stroke-width="2.2"/>
<line x1="201.25" y1="602.6" x2="201.25" y2="605.4" stroke="#000" stroke-width="2.2"/>
<line x1="345" y1="602.6" x2="345" y2="605.4" stroke="#000" stroke-width="2.2"/>
<text x="10.85" y="373.85" font-size="25" fill="#000" textLength="42.73" lengthAdjust="spacingAndGlyphs">125</text>
<text x="38.88" y="453.40" font-size="25" fill="#000" textLength="13.03" lengthAdjust="spacingAndGlyphs">0</text>
<text x="1.07" y="531.25" font-size="25" fill="#000" textLength="51.00" lengthAdjust="spacingAndGlyphs">-125</text>
<text x="1.07" y="611.20" font-size="25" fill="#000" textLength="50.92" lengthAdjust="spacingAndGlyphs">-250</text>
<text x="50.35" y="627.30" font-size="25" fill="#000" textLength="15.01" lengthAdjust="spacingAndGlyphs">0</text>
<text x="180.96" y="627.30" font-size="25" fill="#000" textLength="41.10" lengthAdjust="spacingAndGlyphs">300</text>
<text x="323.40" y="627.10" font-size="25" fill="#000" textLength="42.59" lengthAdjust="spacingAndGlyphs">600</text>
<text x="230.75" y="644.55" font-size="25" fill="#000" textLength="89.36" lengthAdjust="spacingAndGlyphs">Time (s)</text>
<text transform="translate(17.90,447.55) rotate(-90)" x="-30.85" y="0" font-size="25" fill="#000">I (pA)</text>
<text x="262.53" y="394.60" font-size="25" fill="#000" textLength="74.49" lengthAdjust="spacingAndGlyphs">Ringer</text>
<text x="337.49" y="528.65" font-size="25" fill="#000" textLength="61.44" lengthAdjust="spacingAndGlyphs">V77C</text>
<text x="360.79" y="557.65" font-size="25" fill="#000" textLength="14.42" lengthAdjust="spacingAndGlyphs">+</text>
<text x="331.92" y="587.30" font-size="25" fill="#000" textLength="70.04" lengthAdjust="spacingAndGlyphs">STIM1</text>
<text x="115.47" y="516.20" font-size="25" fill="#000" textLength="10.45" lengthAdjust="spacingAndGlyphs">1</text>
<line x1="121.3" y1="523.9" x2="129.4" y2="544.9" stroke="#000" stroke-width="2.2"/>
<polygon points="134.1,557.0 125.7,546.3 133.1,543.4" fill="#000"/>
<text x="157.12" y="518.10" font-size="25" fill="#000" textLength="15.26" lengthAdjust="spacingAndGlyphs">2</text>
<line x1="165.0" y1="493.8" x2="171.6" y2="475.2" stroke="#000" stroke-width="2.2"/>
<polygon points="176.0,463.0 175.4,476.6 167.9,473.9" fill="#000"/>
<text x="226.60" y="567.15" font-size="25" fill="#000" textLength="13.20" lengthAdjust="spacingAndGlyphs">3</text>
<line x1="232.5" y1="543.8" x2="233.3" y2="521.0" stroke="#000" stroke-width="2.2"/>
<polygon points="233.8,508.0 237.3,521.1 229.3,520.9" fill="#000"/>
<text x="327.82" y="490.15" font-size="25" fill="#000" textLength="14.13" lengthAdjust="spacingAndGlyphs">4</text>
<line x1="332.5" y1="495.0" x2="323.8" y2="523.6" stroke="#000" stroke-width="2.2"/>
<polygon points="320.0,536.0 320.0,522.4 327.6,524.7" fill="#000"/>
<path d="M54.9,397.6h6.2v6.2h-6.2zM57.3,395.8h6.2v6.2h-6.2zM59.1,396.4h6.2v6.2h-6.2zM59.8,393.3h6.2v6.2h-6.2zM63.0,392.3h6.2v6.2h-6.2zM64.0,390.4h6.2v6.2h-6.2zM63.2,391.0h6.2v6.2h-6.2zM64.7,390.5h6.2v6.2h-6.2zM66.9,387.1h6.2v6.2h-6.2zM68.0,387.1h6.2v6.2h-6.2zM71.9,388.5h6.2v6.2h-6.2zM73.1,386.6h6.2v6.2h-6.2zM74.9,388.4h6.2v6.2h-6.2zM76.3,385.5h6.2v6.2h-6.2zM77.7,386.6h6.2v6.2h-6.2zM82.0,388.3h6.2v6.2h-6.2zM83.1,388.7h6.2v6.2h-6.2zM85.3,386.7h6.2v6.2h-6.2zM84.5,388.7h6.2v6.2h-6.2zM89.1,386.0h6.2v6.2h-6.2zM91.5,387.3h6.2v6.2h-6.2zM93.3,387.5h6.2v6.2h-6.2zM95.2,386.7h6.2v6.2h-6.2zM98.0,388.1h6.2v6.2h-6.2zM102.3,387.6h6.2v6.2h-6.2zM104.3,388.0h6.2v6.2h-6.2zM103.9,390.1h6.2v6.2h-6.2zM107.3,388.9h6.2v6.2h-6.2zM106.6,389.0h6.2v6.2h-6.2zM110.0,390.2h6.2v6.2h-6.2zM111.4,388.1h6.2v6.2h-6.2zM115.8,386.6h6.2v6.2h-6.2zM116.6,388.6h6.2v6.2h-6.2zM120.1,385.6h6.2v6.2h-6.2zM120.1,385.2h6.2v6.2h-6.2zM125.2,385.6h6.2v6.2h-6.2zM127.1,387.7h6.2v6.2h-6.2zM128.4,385.9h6.2v6.2h-6.2zM133.0,387.3h6.2v6.2h-6.2zM133.1,387.9h6.2v6.2h-6.2zM135.3,386.8h6.2v6.2h-6.2zM135.8,388.5h6.2v6.2h-6.2z" fill="#000"/>
<rect x="137.9" y="399.7" width="5.2" height="5.2" fill="#000"/>
<rect x="140.0" y="407.1" width="5.2" height="5.2" fill="#000"/>
<path d="M142.8,416.5h6.2v6.2h-6.2zM143.8,416.4h6.2v6.2h-6.2zM142.5,419.7h6.2v6.2h-6.2zM145.6,422.6h6.2v6.2h-6.2zM144.6,421.6h6.2v6.2h-6.2zM146.4,423.9h6.2v6.2h-6.2zM149.3,423.8h6.2v6.2h-6.2zM150.3,426.5h6.2v6.2h-6.2zM151.9,427.4h6.2v6.2h-6.2zM152.6,426.9h6.2v6.2h-6.2zM153.1,427.9h6.2v6.2h-6.2zM156.0,427.9h6.2v6.2h-6.2zM155.5,431.0h6.2v6.2h-6.2zM157.1,429.8h6.2v6.2h-6.2zM157.8,432.3h6.2v6.2h-6.2zM160.0,434.5h6.2v6.2h-6.2zM163.6,435.6h6.2v6.2h-6.2zM163.0,433.7h6.2v6.2h-6.2zM164.1,436.0h6.2v6.2h-6.2zM167.9,436.2h6.2v6.2h-6.2zM168.0,435.9h6.2v6.2h-6.2zM171.0,436.1h6.2v6.2h-6.2zM173.2,435.8h6.2v6.2h-6.2zM174.4,432.5h6.2v6.2h-6.2zM176.2,432.0h6.2v6.2h-6.2zM176.4,431.0h6.2v6.2h-6.2zM177.9,429.0h6.2v6.2h-6.2zM177.2,427.5h6.2v6.2h-6.2zM177.5,427.3h6.2v6.2h-6.2zM179.2,423.9h6.2v6.2h-6.2zM178.9,424.3h6.2v6.2h-6.2zM179.7,420.1h6.2v6.2h-6.2zM181.3,420.0h6.2v6.2h-6.2zM182.8,416.9h6.2v6.2h-6.2zM182.3,418.2h6.2v6.2h-6.2zM184.8,417.6h6.2v6.2h-6.2zM183.7,414.8h6.2v6.2h-6.2zM185.4,413.7h6.2v6.2h-6.2zM189.6,414.1h6.2v6.2h-6.2zM190.9,412.5h6.2v6.2h-6.2zM192.1,411.8h6.2v6.2h-6.2zM191.6,411.8h6.2v6.2h-6.2zM195.2,408.7h6.2v6.2h-6.2zM195.4,409.4h6.2v6.2h-6.2zM196.0,407.6h6.2v6.2h-6.2zM197.2,406.3h6.2v6.2h-6.2zM199.7,407.5h6.2v6.2h-6.2zM202.6,406.2h6.2v6.2h-6.2zM202.9,406.6h6.2v6.2h-6.2zM207.8,406.1h6.2v6.2h-6.2zM209.6,406.2h6.2v6.2h-6.2zM212.7,407.4h6.2v6.2h-6.2zM211.8,406.0h6.2v6.2h-6.2zM215.7,407.7h6.2v6.2h-6.2zM219.1,406.6h6.2v6.2h-6.2zM220.2,408.9h6.2v6.2h-6.2zM223.6,408.0h6.2v6.2h-6.2zM225.7,410.7h6.2v6.2h-6.2zM228.1,410.2h6.2v6.2h-6.2zM230.2,410.6h6.2v6.2h-6.2zM233.6,413.6h6.2v6.2h-6.2zM233.2,412.6h6.2v6.2h-6.2zM235.3,414.5h6.2v6.2h-6.2zM233.8,418.6h6.2v6.2h-6.2zM236.0,420.2h6.2v6.2h-6.2zM236.8,422.0h6.2v6.2h-6.2zM238.2,420.9h6.2v6.2h-6.2zM238.0,423.0h6.2v6.2h-6.2zM241.4,424.8h6.2v6.2h-6.2zM241.0,424.5h6.2v6.2h-6.2zM244.0,424.9h6.2v6.2h-6.2zM244.7,424.8h6.2v6.2h-6.2zM247.2,427.6h6.2v6.2h-6.2zM247.2,427.0h6.2v6.2h-6.2zM250.7,429.4h6.2v6.2h-6.2zM250.1,427.4h6.2v6.2h-6.2zM254.6,430.9h6.2v6.2h-6.2zM254.6,428.1h6.2v6.2h-6.2zM257.7,429.1h6.2v6.2h-6.2zM259.4,429.6h6.2v6.2h-6.2zM260.9,427.8h6.2v6.2h-6.2zM262.6,427.5h6.2v6.2h-6.2zM263.0,428.9h6.2v6.2h-6.2zM265.9,426.2h6.2v6.2h-6.2zM265.5,426.2h6.2v6.2h-6.2zM267.9,425.4h6.2v6.2h-6.2zM268.0,424.1h6.2v6.2h-6.2zM271.2,425.3h6.2v6.2h-6.2zM270.2,423.2h6.2v6.2h-6.2zM273.5,420.3h6.2v6.2h-6.2zM274.3,419.2h6.2v6.2h-6.2zM274.0,419.0h6.2v6.2h-6.2zM274.4,416.6h6.2v6.2h-6.2zM274.3,416.0h6.2v6.2h-6.2zM275.3,415.0h6.2v6.2h-6.2zM276.8,413.2h6.2v6.2h-6.2zM277.5,413.0h6.2v6.2h-6.2zM281.3,411.1h6.2v6.2h-6.2zM284.7,412.3h6.2v6.2h-6.2zM286.3,409.9h6.2v6.2h-6.2zM289.0,409.2h6.2v6.2h-6.2zM290.5,409.9h6.2v6.2h-6.2zM293.1,409.7h6.2v6.2h-6.2zM297.3,408.3h6.2v6.2h-6.2zM300.6,408.3h6.2v6.2h-6.2zM303.7,410.5h6.2v6.2h-6.2zM305.5,408.0h6.2v6.2h-6.2zM307.7,408.8h6.2v6.2h-6.2zM311.3,407.6h6.2v6.2h-6.2zM312.9,410.0h6.2v6.2h-6.2zM314.3,409.0h6.2v6.2h-6.2zM314.1,409.1h6.2v6.2h-6.2zM316.8,408.7h6.2v6.2h-6.2z" fill="#000"/>
<rect x="318.2" y="420.4" width="5.2" height="5.2" fill="#000"/>
<rect x="319.3" y="429.0" width="5.2" height="5.2" fill="#000"/>
<path d="M321.7,435.0h6.2v6.2h-6.2zM322.7,438.9h6.2v6.2h-6.2zM321.9,438.6h6.2v6.2h-6.2zM325.4,438.9h6.2v6.2h-6.2zM327.3,440.0h6.2v6.2h-6.2zM328.9,439.9h6.2v6.2h-6.2zM330.2,442.5h6.2v6.2h-6.2zM332.0,440.3h6.2v6.2h-6.2zM335.7,440.3h6.2v6.2h-6.2zM336.7,439.6h6.2v6.2h-6.2zM339.1,441.8h6.2v6.2h-6.2zM341.5,441.7h6.2v6.2h-6.2z" fill="#000"/>
<path d="M323.9,442.9h5.2v5.2h-5.2zM323.3,444.5h5.2v5.2h-5.2zM323.7,446.1h5.2v5.2h-5.2zM323.5,448.5h5.2v5.2h-5.2zM322.6,451.0h5.2v5.2h-5.2zM321.5,452.7h5.2v5.2h-5.2zM322.2,452.2h5.2v5.2h-5.2z" fill="#000"/>
<rect x="320.9" y="459.8" width="5.2" height="5.2" fill="#000"/>
<rect x="319.3" y="465.2" width="5.2" height="5.2" fill="#000"/>
<rect x="55.9" y="415.2" width="5.2" height="5.2" fill="#000"/>
<rect x="56.5" y="462.8" width="5.2" height="5.2" fill="#000"/>
<rect x="57.2" y="475.0" width="5.2" height="5.2" fill="#000"/>
<rect x="57.8" y="487.2" width="5.2" height="5.2" fill="#000"/>
<path d="M58.9,490.8h6.2v6.2h-6.2zM60.4,493.3h6.2v6.2h-6.2zM59.0,495.6h6.2v6.2h-6.2zM59.8,495.4h6.2v6.2h-6.2zM61.4,496.9h6.2v6.2h-6.2zM62.3,499.7h6.2v6.2h-6.2zM62.4,504.3h6.2v6.2h-6.2zM62.9,505.6h6.2v6.2h-6.2zM62.6,505.8h6.2v6.2h-6.2zM62.3,508.7h6.2v6.2h-6.2zM64.8,512.1h6.2v6.2h-6.2zM65.0,516.2h6.2v6.2h-6.2zM64.4,516.6h6.2v6.2h-6.2zM66.7,518.2h6.2v6.2h-6.2zM65.2,521.3h6.2v6.2h-6.2zM66.1,523.1h6.2v6.2h-6.2zM67.0,525.5h6.2v6.2h-6.2zM68.7,525.8h6.2v6.2h-6.2zM69.4,528.2h6.2v6.2h-6.2zM68.5,531.2h6.2v6.2h-6.2zM69.7,530.3h6.2v6.2h-6.2zM70.2,533.5h6.2v6.2h-6.2zM73.7,535.6h6.2v6.2h-6.2zM73.2,535.5h6.2v6.2h-6.2zM73.1,538.3h6.2v6.2h-6.2zM75.9,539.0h6.2v6.2h-6.2zM77.2,540.9h6.2v6.2h-6.2zM79.1,543.6h6.2v6.2h-6.2zM77.9,545.9h6.2v6.2h-6.2zM78.3,546.4h6.2v6.2h-6.2zM80.5,547.1h6.2v6.2h-6.2zM80.4,550.3h6.2v6.2h-6.2zM81.2,550.7h6.2v6.2h-6.2zM85.5,550.8h6.2v6.2h-6.2zM84.5,553.4h6.2v6.2h-6.2zM87.1,554.6h6.2v6.2h-6.2zM89.4,553.9h6.2v6.2h-6.2zM89.5,555.1h6.2v6.2h-6.2zM90.6,557.9h6.2v6.2h-6.2zM95.0,558.2h6.2v6.2h-6.2zM94.7,559.5h6.2v6.2h-6.2zM99.3,559.0h6.2v6.2h-6.2zM101.4,559.6h6.2v6.2h-6.2zM101.7,559.1h6.2v6.2h-6.2zM103.8,559.4h6.2v6.2h-6.2zM106.1,562.1h6.2v6.2h-6.2zM109.3,562.7h6.2v6.2h-6.2zM111.4,561.2h6.2v6.2h-6.2zM112.9,562.0h6.2v6.2h-6.2zM115.7,562.5h6.2v6.2h-6.2zM116.1,563.0h6.2v6.2h-6.2zM120.4,561.8h6.2v6.2h-6.2zM122.1,561.2h6.2v6.2h-6.2zM122.2,561.9h6.2v6.2h-6.2zM125.7,564.2h6.2v6.2h-6.2zM127.7,562.2h6.2v6.2h-6.2zM130.2,562.1h6.2v6.2h-6.2zM130.3,563.8h6.2v6.2h-6.2zM133.4,563.0h6.2v6.2h-6.2zM135.2,563.8h6.2v6.2h-6.2zM135.7,563.3h6.2v6.2h-6.2z" fill="#000"/>
<rect x="137.8" y="549.8" width="5.2" height="5.2" fill="#000"/>
<rect x="137.8" y="514.2" width="5.2" height="5.2" fill="#000"/>
<path d="M139.0,496.4h6.2v6.2h-6.2zM138.6,494.1h6.2v6.2h-6.2zM139.7,490.1h6.2v6.2h-6.2zM138.9,489.6h6.2v6.2h-6.2zM138.8,488.9h6.2v6.2h-6.2zM139.4,484.3h6.2v6.2h-6.2zM139.7,485.5h6.2v6.2h-6.2zM140.9,481.3h6.2v6.2h-6.2zM140.3,479.4h6.2v6.2h-6.2zM142.9,479.7h6.2v6.2h-6.2zM143.8,477.3h6.2v6.2h-6.2zM142.7,474.1h6.2v6.2h-6.2zM144.7,472.2h6.2v6.2h-6.2zM147.2,469.8h6.2v6.2h-6.2zM146.0,467.3h6.2v6.2h-6.2zM149.9,465.3h6.2v6.2h-6.2zM148.6,461.0h6.2v6.2h-6.2zM149.9,458.7h6.2v6.2h-6.2zM153.7,459.6h6.2v6.2h-6.2zM154.4,458.2h6.2v6.2h-6.2zM155.9,455.2h6.2v6.2h-6.2zM155.8,453.4h6.2v6.2h-6.2zM159.6,452.8h6.2v6.2h-6.2zM159.9,452.6h6.2v6.2h-6.2zM160.8,451.4h6.2v6.2h-6.2zM163.5,452.4h6.2v6.2h-6.2zM165.6,450.7h6.2v6.2h-6.2zM169.3,451.0h6.2v6.2h-6.2zM170.7,451.2h6.2v6.2h-6.2zM169.9,450.5h6.2v6.2h-6.2zM172.9,451.6h6.2v6.2h-6.2zM174.4,451.6h6.2v6.2h-6.2zM176.6,450.3h6.2v6.2h-6.2zM179.6,450.7h6.2v6.2h-6.2zM180.7,452.1h6.2v6.2h-6.2zM178.7,453.7h6.2v6.2h-6.2zM181.7,458.0h6.2v6.2h-6.2zM180.0,458.5h6.2v6.2h-6.2zM182.2,461.0h6.2v6.2h-6.2zM181.9,461.7h6.2v6.2h-6.2zM183.1,464.5h6.2v6.2h-6.2zM183.5,466.7h6.2v6.2h-6.2zM184.4,466.4h6.2v6.2h-6.2zM186.5,469.3h6.2v6.2h-6.2zM185.5,471.9h6.2v6.2h-6.2zM186.4,474.8h6.2v6.2h-6.2zM189.3,477.3h6.2v6.2h-6.2zM190.1,478.3h6.2v6.2h-6.2zM190.4,480.8h6.2v6.2h-6.2zM193.1,481.8h6.2v6.2h-6.2zM194.4,483.3h6.2v6.2h-6.2zM193.5,485.6h6.2v6.2h-6.2zM197.1,487.7h6.2v6.2h-6.2zM196.8,490.1h6.2v6.2h-6.2zM197.8,489.9h6.2v6.2h-6.2zM200.1,492.0h6.2v6.2h-6.2zM202.2,492.8h6.2v6.2h-6.2zM202.2,492.8h6.2v6.2h-6.2zM202.9,495.5h6.2v6.2h-6.2zM205.9,496.1h6.2v6.2h-6.2zM205.7,496.0h6.2v6.2h-6.2zM209.0,497.2h6.2v6.2h-6.2zM208.9,497.6h6.2v6.2h-6.2zM213.4,497.6h6.2v6.2h-6.2zM213.2,498.2h6.2v6.2h-6.2zM216.9,500.4h6.2v6.2h-6.2zM217.2,498.6h6.2v6.2h-6.2zM219.5,499.3h6.2v6.2h-6.2zM222.5,499.0h6.2v6.2h-6.2zM223.7,499.2h6.2v6.2h-6.2zM227.6,501.1h6.2v6.2h-6.2zM226.6,501.9h6.2v6.2h-6.2zM228.2,500.0h6.2v6.2h-6.2zM232.7,501.0h6.2v6.2h-6.2zM233.4,499.1h6.2v6.2h-6.2zM232.9,498.5h6.2v6.2h-6.2zM233.6,495.4h6.2v6.2h-6.2zM235.2,493.1h6.2v6.2h-6.2zM236.1,493.7h6.2v6.2h-6.2zM237.9,491.2h6.2v6.2h-6.2zM238.8,489.9h6.2v6.2h-6.2zM238.4,489.2h6.2v6.2h-6.2zM240.5,488.7h6.2v6.2h-6.2zM243.5,487.0h6.2v6.2h-6.2zM243.9,487.5h6.2v6.2h-6.2zM245.0,485.5h6.2v6.2h-6.2zM247.6,487.3h6.2v6.2h-6.2zM249.6,486.2h6.2v6.2h-6.2zM251.8,485.3h6.2v6.2h-6.2zM252.6,483.9h6.2v6.2h-6.2zM253.0,483.8h6.2v6.2h-6.2zM253.8,482.5h6.2v6.2h-6.2zM257.5,483.1h6.2v6.2h-6.2zM259.2,481.5h6.2v6.2h-6.2zM260.7,482.6h6.2v6.2h-6.2zM262.8,482.9h6.2v6.2h-6.2zM264.4,485.1h6.2v6.2h-6.2zM264.9,485.0h6.2v6.2h-6.2zM268.2,484.7h6.2v6.2h-6.2zM268.8,487.1h6.2v6.2h-6.2zM268.8,486.4h6.2v6.2h-6.2zM271.1,488.0h6.2v6.2h-6.2zM274.9,487.8h6.2v6.2h-6.2z" fill="#000"/>
<rect x="274.0" y="507.7" width="5.2" height="5.2" fill="#000"/>
<rect x="276.1" y="516.1" width="5.2" height="5.2" fill="#000"/>
<path d="M278.1,522.1h6.2v6.2h-6.2zM280.0,524.0h6.2v6.2h-6.2zM280.6,525.8h6.2v6.2h-6.2zM282.5,527.8h6.2v6.2h-6.2zM282.1,531.7h6.2v6.2h-6.2zM282.4,533.1h6.2v6.2h-6.2zM284.1,535.2h6.2v6.2h-6.2zM284.2,537.4h6.2v6.2h-6.2zM286.1,535.8h6.2v6.2h-6.2zM287.0,538.0h6.2v6.2h-6.2zM287.4,539.0h6.2v6.2h-6.2zM290.1,540.7h6.2v6.2h-6.2zM291.4,539.9h6.2v6.2h-6.2zM292.8,541.8h6.2v6.2h-6.2zM297.1,541.3h6.2v6.2h-6.2zM296.9,542.2h6.2v6.2h-6.2zM299.6,540.2h6.2v6.2h-6.2zM301.0,541.8h6.2v6.2h-6.2zM305.4,541.1h6.2v6.2h-6.2zM306.7,540.4h6.2v6.2h-6.2zM308.5,541.0h6.2v6.2h-6.2zM311.6,539.2h6.2v6.2h-6.2zM315.6,539.0h6.2v6.2h-6.2zM316.5,536.7h6.2v6.2h-6.2zM318.3,535.7h6.2v6.2h-6.2z" fill="#000"/>
<text x="398.42" y="351.65" font-size="25" fill="#000" textLength="18.29" lengthAdjust="spacingAndGlyphs">D</text>
<line x1="573.5" y1="364.5" x2="573.5" y2="601.3" stroke="#000" stroke-width="2.8"/>
<line x1="426.8" y1="443.4" x2="720.5" y2="443.4" stroke="#000" stroke-width="2.8"/>
<line x1="570.7" y1="365" x2="573.5" y2="365" stroke="#000" stroke-width="2.2"/>
<line x1="570.7" y1="522.3" x2="573.5" y2="522.3" stroke="#000" stroke-width="2.2"/>
<line x1="570.7" y1="600.5" x2="573.5" y2="600.5" stroke="#000" stroke-width="2.2"/>
<line x1="427.5" y1="443.4" x2="427.5" y2="446.2" stroke="#000" stroke-width="2.2"/>
<line x1="500.5" y1="443.4" x2="500.5" y2="446.2" stroke="#000" stroke-width="2.2"/>
<line x1="646.5" y1="443.4" x2="646.5" y2="446.2" stroke="#000" stroke-width="2.2"/>
<line x1="719.5" y1="443.4" x2="719.5" y2="446.2" stroke="#000" stroke-width="2.2"/>
<text x="528.16" y="372.40" font-size="25" fill="#000" textLength="40.36" lengthAdjust="spacingAndGlyphs">125</text>
<text x="518.60" y="529.80" font-size="25" fill="#000" textLength="49.64" lengthAdjust="spacingAndGlyphs">-125</text>
<text x="518.60" y="607.10" font-size="25" fill="#000" textLength="49.57" lengthAdjust="spacingAndGlyphs">-250</text>
<text x="401.43" y="437.40" font-size="25" fill="#000" textLength="48.26" lengthAdjust="spacingAndGlyphs">-120</text>
<text x="481.40" y="437.40" font-size="25" fill="#000" textLength="35.82" lengthAdjust="spacingAndGlyphs">-60</text>
<text x="631.71" y="470.25" font-size="25" fill="#000" textLength="28.18" lengthAdjust="spacingAndGlyphs">60</text>
<text x="700.07" y="469.65" font-size="25" fill="#000" textLength="40.07" lengthAdjust="spacingAndGlyphs">120</text>
<text x="655.89" y="502.70" font-size="25" fill="#000">V (mV)</text>
<text transform="translate(606.60,555.40) rotate(-90)" x="-30.90" y="0" font-size="25" fill="#000">I (pA)</text>
<text x="410.85" y="468.10" font-size="25" fill="#000" textLength="14.89" lengthAdjust="spacingAndGlyphs">2</text>
<text x="412.71" y="516.20" font-size="25" fill="#000" textLength="14.43" lengthAdjust="spacingAndGlyphs">3</text>
<text x="411.64" y="549.80" font-size="25" fill="#000" textLength="13.46" lengthAdjust="spacingAndGlyphs">4</text>
<text x="412.07" y="577.65" font-size="25" fill="#000" textLength="11.87" lengthAdjust="spacingAndGlyphs">1</text>
<path d="M427.5,454.5 C429.9,454.1 435.7,453.2 441.6,452.4 C447.6,451.6 456.0,450.5 463.2,449.8 C470.4,449.1 477.7,448.7 484.9,448.1 C492.1,447.5 499.3,446.8 506.5,446.4 C513.7,446.0 520.9,445.8 528.1,445.5 C535.3,445.2 542.7,445.1 549.7,444.9 C556.7,444.7 557.8,444.5 570.0,444.1 C582.2,443.7 608.1,443.1 622.7,442.4 C637.4,441.7 649.1,440.5 657.9,439.8 C666.7,439.1 669.4,438.3 675.4,438.0 C681.4,437.7 690.8,438.0 693.9,438.0" fill="none" stroke="#c4c4c4" stroke-width="3.4"/>
<path d="M427.5,504.0 C428.4,502.3 430.9,497.0 433.0,494.0 C435.1,491.0 437.2,488.6 440.0,486.0 C442.8,483.4 446.2,480.9 450.0,478.5 C453.8,476.1 457.2,474.0 463.0,471.5 C468.8,469.0 477.8,465.8 485.0,463.5 C492.2,461.2 499.3,459.4 506.5,457.5 C513.7,455.6 520.9,453.9 528.1,452.4 C535.3,450.9 542.7,449.4 549.7,448.3 C556.7,447.2 560.8,446.2 570.0,445.5 C579.2,444.8 593.4,444.6 605.1,444.1 C616.8,443.6 632.1,443.4 640.3,442.4 C648.5,441.4 650.3,439.5 654.4,438.0 C658.5,436.5 661.4,435.2 664.9,433.6 C668.4,432.0 671.9,429.9 675.4,428.3 C678.9,426.7 682.9,425.4 686.0,423.9 C689.1,422.4 692.6,420.2 693.9,419.5" fill="none" stroke="#8a8a8a" stroke-width="3.4"/>
<path d="M427.5,540.8 C429.1,537.6 433.2,527.7 437.3,521.6 C441.4,515.5 448.1,508.8 452.4,504.3 C456.7,499.8 457.8,498.6 463.2,494.6 C468.6,490.6 477.7,484.6 484.9,480.5 C492.1,476.4 499.3,472.9 506.5,469.7 C513.7,466.5 520.9,463.8 528.1,461.1 C535.3,458.4 542.7,455.6 549.7,453.5 C556.7,451.4 563.7,449.5 570.0,448.5 C576.3,447.5 581.8,448.0 587.6,447.7 C593.5,447.4 599.2,447.1 605.1,446.8 C611.0,446.5 616.8,446.5 622.7,445.9 C628.6,445.3 635.6,444.3 640.3,443.3 C645.0,442.3 647.3,441.3 650.8,439.8 C654.3,438.3 657.9,436.6 661.4,434.5 C664.9,432.4 668.4,430.0 671.9,427.5 C675.4,425.0 678.8,422.4 682.5,419.5 C686.2,416.6 692.0,411.5 693.9,409.9" fill="none" stroke="#555" stroke-width="3.4"/>
<path d="M427.5,566.0 C428.4,562.9 430.6,553.9 433.0,547.6 C435.4,541.3 438.4,533.9 441.6,528.1 C444.8,522.3 448.8,517.3 452.4,513.0 C456.0,508.7 457.8,506.9 463.2,502.2 C468.6,497.5 477.7,489.9 484.9,484.9 C492.1,479.8 499.3,475.9 506.5,471.9 C513.7,467.9 520.9,464.4 528.1,461.1 C535.3,457.9 542.7,454.9 549.7,452.4 C556.7,449.9 563.7,447.6 570.0,445.9 C576.3,444.2 581.8,443.4 587.6,442.4 C593.5,441.4 599.2,440.7 605.1,439.8 C611.0,438.9 616.8,438.3 622.7,437.1 C628.6,435.9 635.6,434.2 640.3,432.7 C645.0,431.2 647.3,430.2 650.8,428.3 C654.3,426.4 657.9,423.9 661.4,421.3 C664.9,418.7 668.4,415.9 671.9,412.5 C675.4,409.1 678.8,405.1 682.5,401.1 C686.2,397.2 692.0,390.9 693.9,388.8" fill="none" stroke="#000" stroke-width="3.4"/>
<text x="-1.63" y="679.25" font-size="25" fill="#000" textLength="17.35" lengthAdjust="spacingAndGlyphs">E</text>
<text transform="translate(59.80,809.45) rotate(-90)" x="-148.25" y="0" font-size="24.4" fill="#000">Percent Current Remaining</text>
<text transform="translate(88.90,809.15) rotate(-90)" x="-82.84" y="0" font-size="24.4" fill="#000">upon treatment</text>
<line x1="145.7" y1="662.8" x2="145.7" y2="939" stroke="#000" stroke-width="3.4"/>
<line x1="142.3" y1="681.9" x2="145.7" y2="681.9" stroke="#000" stroke-width="2.2"/>
<text x="92.26" y="690.76" font-size="28.5" fill="#000">100</text>
<line x1="142.3" y1="746.5" x2="145.7" y2="746.5" stroke="#000" stroke-width="2.2"/>
<text x="108.20" y="755.36" font-size="28.5" fill="#000">75</text>
<line x1="142.3" y1="809.5" x2="145.7" y2="809.5" stroke="#000" stroke-width="2.2"/>
<text x="108.11" y="818.36" font-size="28.5" fill="#000">50</text>
<line x1="142.3" y1="873" x2="145.7" y2="873" stroke="#000" stroke-width="2.2"/>
<text x="108.20" y="881.86" font-size="28.5" fill="#000">25</text>
<line x1="142.3" y1="937.4" x2="145.7" y2="937.4" stroke="#000" stroke-width="2.2"/>
<text x="123.96" y="946.26" font-size="28.5" fill="#000">0</text>
<rect x="162.6" y="681.5" width="68.9" height="255.5" fill="url(#xh)" stroke="#000" stroke-width="3"/>
<rect x="231.3" y="685.3" width="68.2" height="251.7" fill="url(#vs)" stroke="#000" stroke-width="3"/>
<rect x="334.1" y="825.9" width="68.5" height="111" fill="url(#xh3)" stroke="#000" stroke-width="3"/>
<rect x="402.6" y="739.1" width="67.5" height="198" fill="url(#vs)" stroke="#000" stroke-width="3"/>
<line x1="144" y1="937.2" x2="487.5" y2="937.2" stroke="#000" stroke-width="3.2"/>
<line x1="196.8" y1="674.9" x2="196.8" y2="687.5" stroke="#000" stroke-width="2.4"/>
<rect x="194.2" y="674.9" width="5.2" height="3" fill="#000"/>
<rect x="194.2" y="684.5" width="5.2" height="3" fill="#000"/>
<line x1="265.2" y1="669.2" x2="265.2" y2="701.6" stroke="#000" stroke-width="2.4"/>
<rect x="262.6" y="669.2" width="5.2" height="3" fill="#000"/>
<rect x="262.6" y="698.6" width="5.2" height="3" fill="#000"/>
<line x1="367.5" y1="804.6" x2="367.5" y2="844.9" stroke="#000" stroke-width="2.4"/>
<rect x="364.9" y="804.6" width="5.2" height="3" fill="#000"/>
<rect x="364.9" y="841.9" width="5.2" height="3" fill="#000"/>
<line x1="435.9" y1="722.3" x2="435.9" y2="755.5" stroke="#000" stroke-width="2.4"/>
<rect x="433.3" y="722.3" width="5.2" height="3" fill="#000"/>
<rect x="433.3" y="752.5" width="5.2" height="3" fill="#000"/>
<path d="M163.3,950.2 Q163.3,952.7 165.8,952.7 L291.9,952.7 Q294.4,952.7 294.4,950.2" fill="none" stroke="#000" stroke-width="3.8"/>
<rect x="227.7" y="953" width="3.2" height="4.6" rx="1.2" fill="#000"/>
<path d="M334.2,950.2 Q334.2,952.7 336.7,952.7 L463.7,952.7 Q466.2,952.7 466.2,950.2" fill="none" stroke="#000" stroke-width="3.8"/>
<rect x="398.4" y="953" width="3.2" height="4.6" rx="1.2" fill="#000"/>
<text x="162.40" y="981.85" font-size="25" fill="#000" textLength="132.55" lengthAdjust="spacingAndGlyphs">WT + STIM1</text>
<text x="320.79" y="981.65" font-size="25" fill="#000" textLength="158.28" lengthAdjust="spacingAndGlyphs">V77C + STIM1</text>
<text x="575.57" y="721.94" font-size="24.4" fill="#000" textLength="108.51" lengthAdjust="spacingAndGlyphs">Treatment</text>
<text x="608.14" y="751.58" font-size="24.4" fill="#000" textLength="41.46" lengthAdjust="spacingAndGlyphs">and</text>
<text x="570.44" y="779.93" font-size="24.4" fill="#000" textLength="124.18" lengthAdjust="spacingAndGlyphs">washout of:</text>
<rect x="494.5" y="800" width="29" height="12" fill="url(#xh)" stroke="#000" stroke-width="2.5"/>
<rect x="494.5" y="831" width="29" height="13" fill="url(#vs)" stroke="#000" stroke-width="2.5"/>
<text x="533.40" y="814.44" font-size="24.4" fill="#000">EA</text>
<text x="532.99" y="845.44" font-size="24.4" fill="#000" textLength="195.06" lengthAdjust="spacingAndGlyphs">BMS following EA</text>
</svg></body></html>
